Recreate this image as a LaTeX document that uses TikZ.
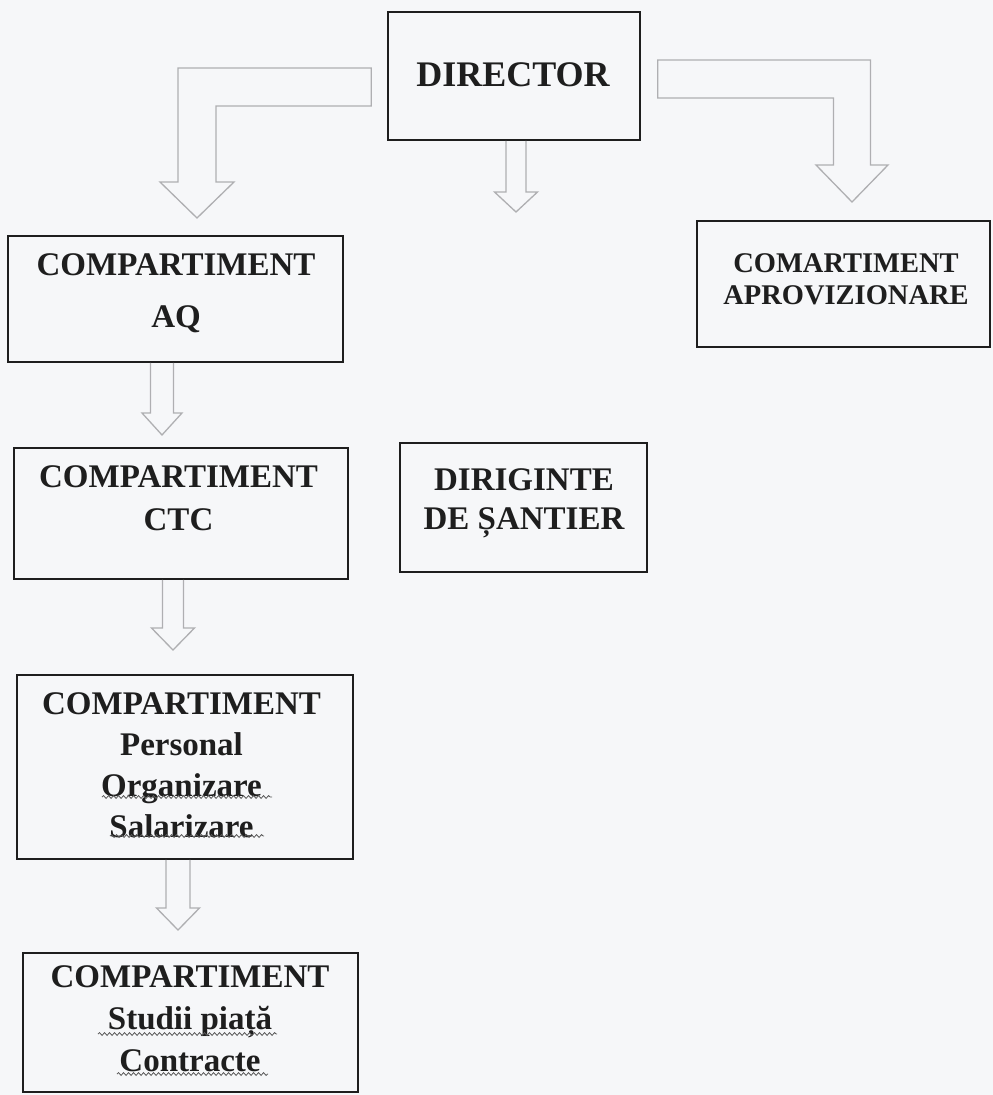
\documentclass[tikz,border=0pt]{standalone}
\usepackage{fontspec}
\setmainfont{Liberation Serif}
\usetikzlibrary{calc,decorations.pathmorphing}
\definecolor{pagebg}{RGB}{246,247,249}
\definecolor{ink}{RGB}{30,30,30}
\definecolor{arrowgray}{RGB}{175,175,178}
\begin{document}
\begin{tikzpicture}[x=1pt,y=-1pt,
  box/.style={draw=ink, line width=1.6pt, rectangle, inner sep=0pt},
  lbl/.style={anchor=north, align=center, inner sep=0pt, text=ink},
  blk/.style={draw=arrowgray, line width=1.3pt, line join=miter},
  squig/.style={draw=black!65, line width=0.8pt, decorate,
    decoration={snake, amplitude=1.4pt, segment length=5pt}}]
\fill[pagebg] (0,0) rectangle (993,1095);
\useasboundingbox (0,0) rectangle (993,1095);

% boxes
\node[box, minimum width=252pt, minimum height=128pt] (dir) at (514,76) {};
\node[box, minimum width=335pt, minimum height=126pt] (aq) at (175.5,299) {};
\node[box, minimum width=293pt, minimum height=126pt] (apr) at (843.5,284) {};
\node[box, minimum width=334pt, minimum height=131pt] (ctc) at (181,513.5) {};
\node[box, minimum width=247pt, minimum height=129pt] (dsa) at (523.5,507.5) {};
\node[box, minimum width=336pt, minimum height=184pt] (pers) at (185,767) {};
\node[box, minimum width=335pt, minimum height=139pt] (stud) at (190.5,1022.5) {};

% texts
\node[lbl, font=\fontsize{36}{40}\selectfont\bfseries] (dirT) at (513,62) {DIRECTOR};
\node[lbl, font=\fontsize{33}{52}\selectfont\bfseries] (aqT) at (176,253) {COMPARTIMENT\\AQ};
\node[lbl, font=\fontsize{28.5}{32}\selectfont\bfseries] (aprT) at (846,253) {COMARTIMENT\\APROVIZIONARE};
\node[lbl, font=\fontsize{33}{43}\selectfont\bfseries] (ctcT) at (178.5,465) {COMPARTIMENT\\CTC};
\node[lbl, font=\fontsize{33}{39}\selectfont\bfseries] (dsaT) at (524,468) {DIRIGINTE\\DE ȘANTIER};
\node[lbl, font=\fontsize{33}{41}\selectfont\bfseries] (persT) at (181.5,692) {COMPARTIMENT\\Personal\\Organizare\\Salarizare};
\node[lbl, font=\fontsize{33}{42}\selectfont\bfseries] (studT) at (190,965) {COMPARTIMENT\\Studii piață\\Contracte};

% spell-check squiggles
\draw[squig] (102,797) -- (272,797);
\draw[squig] (110,836) -- (264,836);
\draw[squig] (98,1034) -- (277,1034);
\draw[squig] (117,1074) -- (268,1074);

% bent arrow to AQ
\coordinate (tL) at (197,218);
\coordinate (a1) at ($(dir.west)+(-16,-8)$);
\draw[blk] (a1) -- ($(tL|-a1)+(-19,0)$) -- ($(tL)+(-19,-36)$) -- ($(tL)+(-37,-36)$)
  -- (tL) -- ($(tL)+(37,-36)$) -- ($(tL)+(19,-36)$) -- ($(tL|-a1)+(19,38)$)
  -- ($(a1)+(0,38)$) -- cycle;

% bent arrow to aprovizionare
\coordinate (tR) at (852,202);
\coordinate (a2) at ($(dir.east)+(17,-16)$);
\draw[blk] (a2) -- ($(tR|-a2)+(18.5,0)$) -- ($(tR)+(18.5,-37)$) -- ($(tR)+(36,-37)$)
  -- (tR) -- ($(tR)+(-36,-37)$) -- ($(tR)+(-18.5,-37)$) -- ($(tR|-a2)+(-18.5,38)$)
  -- ($(a2)+(0,38)$) -- cycle;

% straight block arrows: start, tip, shaft half, head half, head length
\newcommand\vblk[5]{\draw[blk] ($(#1)+(-#3,0)$) -- ($(#2)+(-#3,-#5)$) -- ($(#2)+(-#4,-#5)$)
  -- (#2) -- ($(#2)+(#4,-#5)$) -- ($(#2)+(#3,-#5)$) -- ($(#1)+(#3,0)$);}

\coordinate (tM) at (516,212);
\coordinate (sM) at (dir.south -| tM);
\vblk{sM}{tM}{10}{21.5}{20}

\coordinate (t1) at (162,435);
\coordinate (s1) at (aq.south -| t1);
\vblk{s1}{t1}{11.5}{20}{22}

\coordinate (t2) at (173,650);
\coordinate (s2) at (ctc.south -| t2);
\vblk{s2}{t2}{10.5}{21.5}{22}

\coordinate (t3) at (178,930);
\coordinate (s3) at (pers.south -| t3);
\vblk{s3}{t3}{12}{21.5}{22}
\end{tikzpicture}
\end{document}
